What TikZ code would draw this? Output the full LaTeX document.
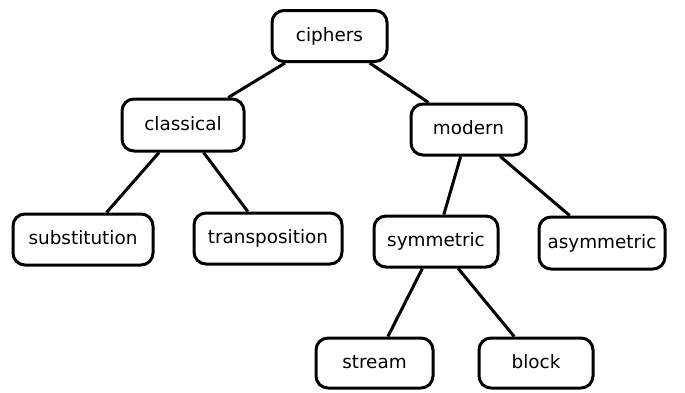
\documentclass[tikz,border=0pt]{standalone}
\usepackage{fontspec}
\setmainfont{DejaVu Sans}
\begin{document}
\begin{tikzpicture}[x=1pt,y=-1pt,
  box/.style={draw=black, line width=3pt, rounded corners=12pt, fill=white,
    minimum height=51pt, inner sep=0pt, text height=13.5pt, text depth=3.5pt,
    font=\fontsize{18.4pt}{20pt}\selectfont},
  edge/.style={line width=3pt}]
\useasboundingbox (0,0) rectangle (685,392);
\node[box, minimum width=115pt] (ciphers) at (329.5,36) {ciphers};
\node[box, minimum width=122pt, minimum height=52pt] (classical) at (183,125) {classical};
\node[box, minimum width=115pt] (modern) at (468.5,129.5) {modern};
\node[box, minimum width=140pt] (substitution) at (83,239.5) {substitution};
\node[box, minimum width=148pt] (transposition) at (268,238.5) {transposition};
\node[box, minimum width=124pt] (symmetric) at (436,241.5) {symmetric};
\node[box, minimum width=126pt, minimum height=52pt] (asymmetric) at (602,243) {asymmetric};
\node[box, minimum width=117pt, minimum height=50pt] (stream) at (374.5,363) {stream};
\node[box, minimum width=114pt, minimum height=50pt] (block) at (536,363) {block};
\draw[edge] (ciphers) -- (classical);
\draw[edge] (ciphers) -- (modern);
\draw[edge] (classical) -- (substitution);
\draw[edge] (classical) -- (transposition);
\draw[edge] (modern) -- (symmetric);
\draw[edge] (modern) -- (asymmetric);
\draw[edge] (symmetric) -- (stream);
\draw[edge] (symmetric) -- (block);
\end{tikzpicture}
\end{document}
